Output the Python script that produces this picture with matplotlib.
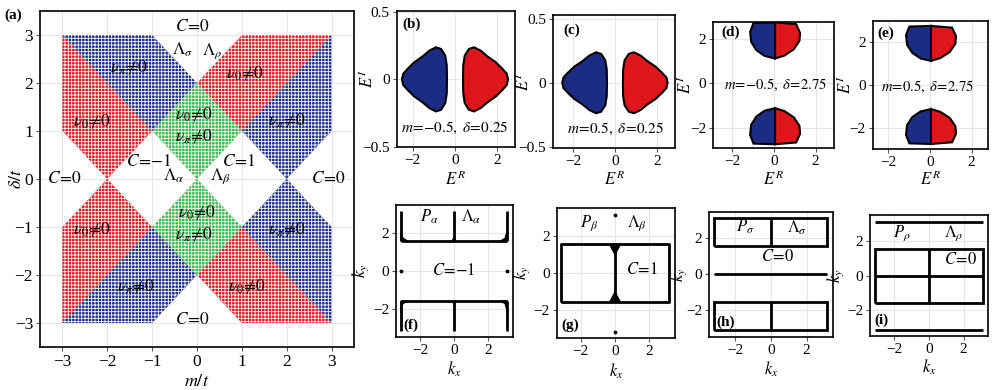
import numpy as np
import matplotlib.pyplot as plt
from matplotlib.patches import Polygon

plt.rcParams['font.family'] = ['Liberation Serif', 'DejaVu Serif']
plt.rcParams['mathtext.fontset'] = 'stix'
plt.rcParams['hatch.linewidth'] = 0.6

RED = '#e0161d'
BLUE = '#1b2c84'
GREEN = '#3bb54a'

# ---- (a) phase diagram, region corners in (m/t, delta/t)
red_regions = [
    [(-3, 3), (-1, 1), (-2, 0), (-3, 1)],
    [(0, 2), (1, 3), (3, 3), (1, 1)],
    [(-3, -1), (-2, 0), (-1, -1), (-3, -3)],
    [(0, -2), (1, -1), (3, -3), (1, -3)],
]
blue_regions = [
    [(-3, 3), (-1, 3), (0, 2), (-1, 1)],
    [(1, 1), (3, 3), (3, 1), (2, 0)],
    [(-3, -3), (-1, -1), (0, -2), (-1, -3)],
    [(1, -1), (2, 0), (3, -1), (3, -3)],
]
green_regions = [
    [(0, 2), (1, 1), (0, 0), (-1, 1)],
    [(0, 0), (1, -1), (0, -2), (-1, -1)],
]
phase_labels = [
    (-0.1, 3.17, r'$C\!=\!0$'), (-0.33, 2.7, r'$\Lambda_\sigma$'), (0.33, 2.67, r'$\Lambda_\rho$'),
    (-1.52, 2.32, r'$\nu_\pi\!\neq\!0$'), (1.07, 2.19, r'$\nu_0\!\neq\!0$'),
    (-2.33, 1.19, r'$\nu_0\!\neq\!0$'), (-0.07, 1.33, r'$\nu_0\!\neq\!0$'),
    (-0.07, 0.88, r'$\nu_\pi\!\neq\!0$'), (2.0, 1.22, r'$\nu_\pi\!\neq\!0$'),
    (-1.07, 0.36, r'$C\!=\!{-}1$'), (0.93, 0.36, r'$C\!=\!1$'),
    (-0.52, 0.06, r'$\Lambda_\alpha$'), (0.52, 0.06, r'$\Lambda_\beta$'),
    (-2.96, 0.0, r'$C\!=\!0$'), (2.92, 0.0, r'$C\!=\!0$'),
    (-2.33, -1.06, r'$\nu_0\!\neq\!0$'), (0.0, -0.71, r'$\nu_0\!\neq\!0$'),
    (-0.07, -1.16, r'$\nu_\pi\!\neq\!0$'), (2.0, -1.06, r'$\nu_\pi\!\neq\!0$'),
    (-1.37, -2.24, r'$\nu_\pi\!\neq\!0$'), (1.11, -2.24, r'$\nu_0\!\neq\!0$'),
    (-0.1, -2.93, r'$C\!=\!0$'),
]

# ---- (b),(c) spectra: upper half of left (blue) loop
bc_ER = [-0.38, -0.39, -0.46, -0.66, -0.90, -1.22, -1.53, -1.93, -2.24, -2.45, -2.51]
bc_EI = [0.0, 0.103, 0.176, 0.226, 0.238, 0.213, 0.171, 0.127, 0.079, 0.042, 0.0]
bc_yticks = [-0.5, 0, 0.5]
bc_yticklabels = ['\u22120.5', '0', '0.5']

# ---- (d),(e) spectra: upper loop, blue and red halves
de_blue_ER = [0.05, -0.99, -1.15, -1.10, -0.85, -0.45, 0.05]
de_blue_EI = [2.72, 2.69, 2.30, 1.85, 1.48, 1.22, 1.11]
de_red_ER = [0.05, 0.50, 0.95, 1.22, 1.25, 1.06, 0.05]
de_red_EI = [1.11, 1.24, 1.52, 1.90, 2.25, 2.64, 2.72]

# ---- (f)-(i) k-space lines
K, H = 3.14, 1.57
f_lines = [([-K, K], [H, H]), ([-K, K], [-H, -H]),
           ([-K, -K], [H, K]), ([0, 0], [H, K]), ([K, K], [H, K]),
           ([-K, -K], [-H, -K]), ([0, 0], [-H, -K]), ([K, K], [-H, -K])]
f_fills = [[(-K, H), (-K, 2.1), (-3.02, 1.72), (-2.75, H)],
           [(K, H), (K, 2.1), (3.02, 1.72), (2.75, H)],
           [(-K, -H), (-K, -2.12), (-3.02, -1.72), (-2.75, -H)],
           [(K, -H), (K, -2.12), (3.02, -1.72), (2.75, -H)],
           [(-0.12, H), (0, 1.75), (0.12, H)],
           [(-0.1, -H), (0, -1.78), (0.1, -H)]]
f_dots = ([-K, K], [0, 0])

g_lines = [([-K, K, K, -K, -K], [-H, -H, H, H, -H]), ([0, 0], [-H, H])]
g_fills = [[(-0.33, H), (0.33, H), (0, 1.0)], [(-0.33, -H), (0.33, -H), (0, -1.0)]]
g_dots = ([0, 0], [K, -K])

h_lines = [([-K, K, K, -K, -K], [H, H, K, K, H]), ([0, 0], [H, K]),
           ([-K, K, K, -K, -K], [-K, -K, -H, -H, -K]), ([0, 0], [-K, -H]),
           ([-K, K], [0, 0])]
i_lines = [([-K, K], [K, K]), ([-K, K], [-K, -K]),
           ([-K, K, K, -K, -K], [-H, -H, H, H, -H]), ([0, 0], [-H, H]), ([-K, K], [0, 0])]

fig = plt.figure(figsize=(10, 3.9), dpi=100)


def style(ax, xt, yt, fs):
    ax.set_xticks(xt)
    ax.set_yticks(yt)
    ax.grid(color='0.9', lw=0.8)
    ax.set_axisbelow(True)
    ax.tick_params(direction='out', length=3, width=0.8, color='0.35', labelsize=fs, pad=2)
    for s in ax.spines.values():
        s.set_linewidth(1.2)


def px_axes(l, r, t, b):
    return fig.add_axes([l / 1000, 1 - b / 390, (r - l) / 1000, (b - t) / 390])


def labels(ax, xl, yl, xy, yx, fs=12):
    ax.set_xlabel(xl, fontsize=fs)
    ax.set_ylabel(yl, fontsize=fs)
    ax.xaxis.set_label_coords(0.5, xy)
    ax.yaxis.set_label_coords(yx, 0.5)


# (a)
ax = px_axes(40, 354, 11, 347)
for regs, c in ((red_regions, RED), (blue_regions, BLUE), (green_regions, GREEN)):
    for p in regs:
        ax.add_patch(Polygon(p, closed=True, facecolor=c, edgecolor='white',
                             hatch='+++++', lw=0))
for x, y, s in phase_labels:
    ax.text(x, y, s, ha='center', va='center', fontsize=12.5)
ax.set_xlim(-3.5, 3.5)
ax.set_ylim(-3.5, 3.5)
style(ax, range(-3, 4), range(-3, 4), 12.5)
labels(ax, r'$m/t$', r'$\delta/t$', -0.077, -0.048, 13)
fig.text(0.013, 0.962, '(a)', fontsize=11, fontweight='bold', va='center', ha='center')

# (b),(c)
bc_pos = [(396.7, 515, 10.7, 146.7), (553, 675, 15, 148)]
bc_lims = [((-2.76, 2.84), (-0.49, 0.51)), ((-2.95, 2.86), (-0.51, 0.53))]
bc_text = [(r'(b)', r'$m\!=\!{-}0.5,\ \delta\!=\!0.25$'), (r'(c)', r'$m\!=\!0.5,\ \delta\!=\!0.25$')]
bc_lab = [(-0.17, -0.17), (-0.165, -0.165)]
for pos, lims, (lab, txt), (xy, yx) in zip(bc_pos, bc_lims, bc_text, bc_lab):
    ax = px_axes(*pos)
    er = np.array(bc_ER + bc_ER[::-1])
    ei = np.array(bc_EI + [-v for v in bc_EI[::-1]])
    ax.fill(er, ei, facecolor=BLUE, edgecolor='black', lw=1.5, zorder=3)
    ax.fill(-er, ei, facecolor=RED, edgecolor='black', lw=1.5, zorder=3)
    ax.set_xlim(*lims[0])
    ax.set_ylim(*lims[1])
    style(ax, [-2, 0, 2], bc_yticks, 11)
    ax.set_yticklabels(bc_yticklabels)
    labels(ax, r'$E^R$', r'$E^I$', xy, yx)
    ax.text(-2.05, 0.41, lab, fontsize=11, fontweight='bold', ha='center', va='center')
    ax.text(0.0, -0.36, txt, fontsize=11, ha='center', va='center')

# (d),(e)
de_pos = [(713.3, 834, 21.7, 148.3), (872.7, 988.3, 20.7, 149)]
de_lims = [((-2.92, 2.88), (-2.9, 2.75)), ((-2.75, 2.8), (-2.95, 2.96))]
de_text = [(r'(d)', r'$m\!=\!{-}0.5,\ \delta\!=\!2.75$', 2.27, 0.05),
           (r'(e)', r'$m\!=\!0.5,\ \delta\!=\!2.75$', 2.38, -0.1)]
de_lab = [(-0.17, -0.15), (-0.165, -0.15)]
for pos, lims, (lab, txt, ly, tx), (xy, yx) in zip(de_pos, de_lims, de_text, de_lab):
    ax = px_axes(*pos)
    for sgn in (1, -1):
        ax.fill(de_blue_ER, [sgn * v for v in de_blue_EI], facecolor=BLUE,
                edgecolor='black', lw=1.5, zorder=3)
        ax.fill(de_red_ER, [sgn * v for v in de_red_EI], facecolor=RED,
                edgecolor='black', lw=1.5, zorder=3)
    ax.set_xlim(*lims[0])
    ax.set_ylim(*lims[1])
    style(ax, [-2, 0, 2], [-2, 0, 2], 11)
    labels(ax, r'$E^R$', r'$E^I$', xy, yx)
    ax.text(-2.1, ly, lab, fontsize=11, fontweight='bold', ha='center', va='center')
    ax.text(tx, -0.08, txt, fontsize=10.5, ha='center', va='center')

# (f)-(i)
k_pos = [(396, 512.7, 205, 337.3), (556.7, 675, 208.3, 338.3),
         (709.3, 832.7, 211.7, 337.3), (870, 988.3, 215, 335.7)]
k_lims = [((-3.43, 3.47), (-3.47, 3.45)), ((-3.4, 3.5), (-3.5, 3.5)),
          ((-3.43, 3.46), (-3.55, 3.5)), ((-3.4, 3.43), (-3.48, 3.52))]
k_lines = [f_lines, g_lines, h_lines, i_lines]
k_fills = [f_fills, g_fills, [], []]
k_dots = [f_dots, g_dots, None, None]
k_join = ['miter', 'round', 'miter', 'miter']
k_labels = [
    [(-1.46, 2.85, r'$P_\alpha$'), (1.0, 2.85, r'$\Lambda_\alpha$'), (0.0, 0.0, r'$C\!=\!{-}1$')],
    [(-1.5, 2.7, r'$P_\beta$'), (1.26, 2.7, r'$\Lambda_\beta$'), (1.55, 0.18, r'$C\!=\!1$')],
    [(-1.43, 2.65, r'$P_\sigma$'), (1.45, 2.6, r'$\Lambda_\sigma$'), (0.37, 0.97, r'$C\!=\!0$')],
    [(-1.58, 2.46, r'$P_\rho$'), (1.41, 2.46, r'$\Lambda_\rho$'), (1.84, 0.91, r'$C\!=\!0$')],
]
k_panel = [('(f)', -2.56, -2.83), ('(g)', -2.6, -2.8), ('(h)', -2.5, -2.68), ('(i)', -2.73, -2.57)]
k_ylab = [-0.21, -0.205, -0.165, -0.2]
k_xlab = [-0.172, -0.18, -0.18, -0.185]
for n in range(4):
    ax = px_axes(*k_pos[n])
    for xs, ys in k_lines[n]:
        ax.plot(xs, ys, color='black', lw=2.0, solid_joinstyle=k_join[n],
                solid_capstyle='butt', zorder=3)
    for p in k_fills[n]:
        ax.add_patch(Polygon(p, closed=True, facecolor='black', edgecolor='black',
                             lw=0.8, zorder=3))
    if k_dots[n] is not None:
        ax.scatter(*k_dots[n], s=3, color='black', zorder=3)
    for x, y, s in k_labels[n]:
        ax.text(x, y, s, fontsize=12, ha='center', va='center')
    lab, lx, ly = k_panel[n]
    ax.text(lx, ly, lab, fontsize=11, fontweight='bold', ha='center', va='center')
    ax.set_xlim(*k_lims[n][0])
    ax.set_ylim(*k_lims[n][1])
    style(ax, [-2, 0, 2], [-2, 0, 2], 11)
    labels(ax, r'$k_x$', r'$k_y$', k_xlab[n], k_ylab[n])

fig.savefig('out.png', dpi=100)
